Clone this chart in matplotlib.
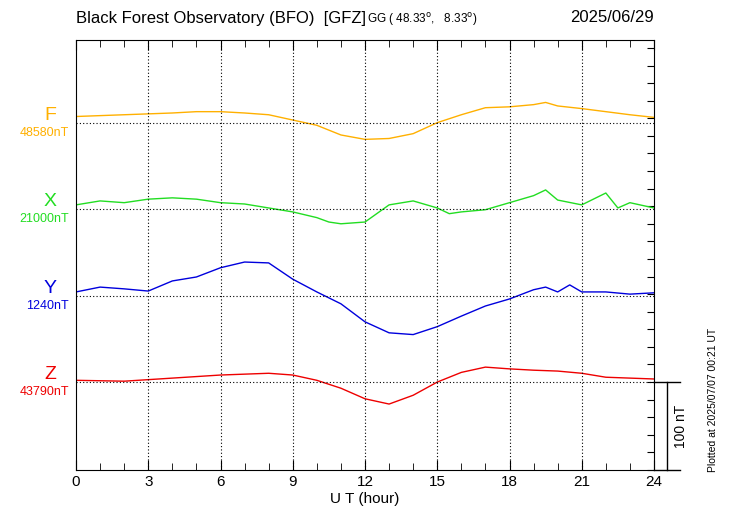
import matplotlib
matplotlib.use("Agg")
import matplotlib.pyplot as plt
import numpy as np

plt.rcParams['font.family'] = ['Liberation Sans', 'DejaVu Sans']

hours_F = [0,1,2,3,4,5,6,7,8,9,10,11,12,13,14,15,16,17,18,19,19.5,20,21,22,23,24]
dev_F = [7,8,9,10,11,12.5,12.5,11,9,3,-3,-14,-19,-18,-12.5,0,9,17,18,20.5,23,19,16,12.5,9,6]
hours_X = [0,1,2,3,4,5,6,7,8,9,10,10.5,11,12,13,14,15,15.5,16,17,18,19,19.5,20,21,22,22.5,23,24]
dev_X = [4.5,9,7,11,12.5,11,7,5.5,1,-3.5,-10,-15,-17,-15,4.5,9,1,-5.5,-3.5,-1,7,15,21.5,10,4.5,18,1,7,1]
hours_Y = [0,1,2,3,4,5,6,7,8,9,10,11,12,13,14,15,16,17,18,19,19.5,20,20.5,21,22,23,24]
dev_Y = [4.5,10,8,5.5,17,21.5,32,38.5,37.5,19,4.5,-9,-29.5,-42,-44,-35,-23,-11.5,-3.5,7,10,4.5,12.5,4.5,4.5,2,3.5]
hours_Z = [0,2,4,6,7,8,9,10,11,12,13,14,15,16,17,18,19,20,21,22,23,24]
dev_Z = [2,1,4.5,8,9,10,8,2,-7,-19,-25,-15,0,11,17,15,13.5,12.5,10,5.5,4.5,3.5]

comps = ['F', 'X', 'Y', 'Z']
base_labels = ['48580nT', '21000nT', '1240nT', '43790nT']
offsets = [395, 297, 198, 100]
colors = ['#FFB000', '#22DD22', '#0000DD', '#EE0000']
series = [(hours_F, dev_F), (hours_X, dev_X), (hours_Y, dev_Y), (hours_Z, dev_Z)]

fig = plt.figure(figsize=(7.3, 5.2), dpi=100)
ax = fig.add_axes([76/730, 50/520, 578/730, 430/520])
ax.set_xlim(0, 24)
ax.set_ylim(0, 489)

for (h, d), off, c in zip(series, offsets, colors):
    ax.plot(h, np.array(d) + off, color=c, lw=1)
    ax.axhline(off, color='black', ls=(0, (1, 2)), lw=0.8)
for x in range(3, 24, 3):
    ax.axvline(x, color='black', ls=(0, (1, 2)), lw=0.8)

ax.set_xticks(range(0, 25, 3))
ax.set_xticks(range(0, 25), minor=True)
ax.tick_params(axis='x', which='both', direction='in', top=True, labelsize=11)
ax.tick_params(axis='x', which='major', length=7)
ax.tick_params(axis='x', which='minor', length=5)
ax.set_yticks(range(0, 489, 20))
ax.tick_params(axis='y', direction='in', left=False, right=True, labelleft=False, length=5)
ax.set_xlabel('U T (hour)', fontsize=11, labelpad=2)

for comp, lab, off, c in zip(comps, base_labels, offsets, colors):
    yf = off / 489
    ax.text(-0.045, yf - 0.003, comp, transform=ax.transAxes, color=c, fontsize=14, ha='center', va='bottom')
    ax.text(-0.012, yf - 0.024, lab, transform=ax.transAxes, color=c, fontsize=9, ha='right', va='center')

# scale bar
tr = ax.get_yaxis_transform()
ax.plot([1, 1.045], [100, 100], transform=tr, color='black', lw=1, clip_on=False)
ax.plot([1, 1.045], [0, 0], transform=tr, color='black', lw=1, clip_on=False)
ax.plot([1.023, 1.023], [0, 100], transform=tr, color='black', lw=1, clip_on=False)
ax.text(1.035, 50, '100 nT', transform=tr, rotation=90, ha='left', va='center', fontsize=10)

fig.text(76/730, 1 - 18/520, 'Black Forest Observatory (BFO)  [GFZ]', fontsize=12, va='center')
fig.text(367/730, 1 - 20/520, 'GG ( 48.33$^{\\rm o}$,   8.33$^{\\rm o}$)', fontsize=8.5, va='center')
fig.text(654/730, 1 - 18/520, '2025/06/29', fontsize=12, va='center', ha='right')
fig.text(713/730, 1 - 400/520, 'Plotted at 2025/07/07 00:21 UT', rotation=90, fontsize=7.5, ha='center', va='center')

fig.savefig('out.png', dpi=100)
